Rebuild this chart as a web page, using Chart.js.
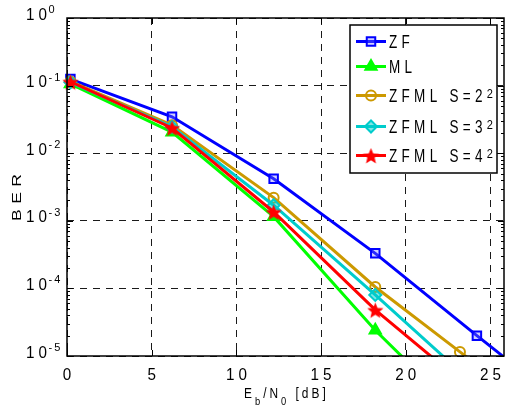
<!DOCTYPE html>
<html>
<head>
<meta charset="utf-8">
<script src="https://cdn.jsdelivr.net/npm/chart.js@4.4.0/dist/chart.umd.min.js"></script>
<style>
  body { margin: 0; background: #fff; }
  canvas { display: block; }
</style>
</head>
<body>
<canvas id="berChart" width="505" height="406" style="width:505px;height:406px"></canvas>
<script>
// Eb/N0 points in dB (the S=2^2 curve has its 5th point at 23.2)
const snr = [0.2, 6.2, 12.2, 18.2, 24.2, 30.2];
const snrS2 = [0.2, 6.2, 12.2, 18.2, 23.2, 28.2];

// BER values (points past the axis get clipped)
const berZF = [0.125, 0.0345, 0.0042, 3.3e-4, 2.0e-5, 1.3e-6];
const berML = [0.106, 0.0205, 1.15e-3, 2.4e-5, 8e-7, 3e-8];
const berS2 = [0.115, 0.026, 2.2e-3, 1.05e-4, 1.15e-5, 1.3e-6];
const berS3 = [0.112, 0.0245, 1.7e-3, 8e-5, 3.5e-6, 2e-7];
const berS4 = [0.114, 0.0236, 1.35e-3, 4.8e-5, 2.7e-6, 1e-7];

const seriesNames = ['ZF', 'ML', 'ZFML S=2^2', 'ZFML S=3^2', 'ZFML S=4^2'];
const xTicks = [0, 5, 10, 15, 20, 25];
const yExponents = [0, -1, -2, -3, -4, -5];

const FONT = '"Liberation Sans", Arial, sans-serif';

function makeStar(r, color) {
  const c = document.createElement('canvas');
  const s = Math.ceil(r * 2 + 2);
  c.width = s; c.height = s;
  const g = c.getContext('2d');
  g.fillStyle = color;
  g.beginPath();
  for (let i = 0; i < 10; i++) {
    const rad = i % 2 ? r * 0.45 : r;
    const a = -Math.PI / 2 + i * Math.PI / 5;
    g.lineTo(s / 2 + rad * Math.cos(a), s / 2 + 1 + rad * Math.sin(a));
  }
  g.closePath();
  g.fill();
  return c;
}

function pts(xs, ys) {
  return xs.map((x, i) => ({ x: x, y: ys[i] }));
}

const styles = [
  { color: '#0000ff', pointStyle: 'rect', radius: 6, fill: 'rgba(120,120,255,0.35)' },
  { color: '#00ff00', pointStyle: 'triangle', radius: 6.5, fill: '#00ff00' },
  { color: '#cc9900', pointStyle: 'circle', radius: 5, fill: 'rgba(255,255,255,0)' },
  { color: '#00cccc', pointStyle: 'rectRot', radius: 6, fill: 'rgba(0,204,204,0.5)' },
  { color: '#ff0000', pointStyle: makeStar(8.5, '#ff0000'), radius: 8, fill: '#ff0000' }
];

const seriesData = [pts(snr, berZF), pts(snr, berML), pts(snrS2, berS2), pts(snr, berS3), pts(snr, berS4)];

const datasets = seriesData.map((d, i) => ({
  label: seriesNames[i],
  data: d,
  borderColor: styles[i].color,
  backgroundColor: styles[i].fill,
  pointBorderColor: styles[i].color,
  pointBackgroundColor: styles[i].fill,
  pointStyle: styles[i].pointStyle,
  pointRadius: styles[i].radius,
  pointBorderWidth: 2,
  borderWidth: 3,
  tension: 0,
  order: 5 - i,
  clip: { left: 12, top: 12, right: 0, bottom: 0 }
}));

function textWidth(ctx, str, size, sx, ls) {
  ctx.font = size + 'px ' + FONT;
  ctx.letterSpacing = '0px';
  return ctx.measureText(str).width * sx + ls * (str.length - 1);
}

function putText(ctx, str, x, baseY, size, sx, ls, align) {
  const w = textWidth(ctx, str, size, sx, ls);
  let left = x;
  if (align === 'center') left -= w / 2;
  if (align === 'right') left -= w;
  ctx.save();
  ctx.translate(left, baseY);
  ctx.scale(sx, 1);
  ctx.font = size + 'px ' + FONT;
  ctx.letterSpacing = (ls / sx) + 'px';
  ctx.textAlign = 'left';
  ctx.textBaseline = 'alphabetic';
  ctx.fillText(str, 0, 0);
  ctx.restore();
  return left + w + ls;
}

// axes box, log ticks, labels and legend
const berDecor = {
  id: 'berDecor',
  afterDraw(chart) {
    const ctx = chart.ctx;
    const a = chart.chartArea;
    const xs = chart.scales.x;
    const ys = chart.scales.y;
    ctx.save();
    ctx.fillStyle = '#000';
    ctx.strokeStyle = '#000';
    ctx.lineWidth = 1;

    // y ticks, major and minor, both sides
    ctx.beginPath();
    yExponents.forEach(e => {
      for (let m = 1; m <= 9; m++) {
        const v = m * Math.pow(10, e);
        if (v > 1 || (e === 0 && m > 1)) continue;
        const py = Math.round(ys.getPixelForValue(v)) + 0.5;
        const len = m === 1 ? 6 : 3;
        ctx.moveTo(a.left, py); ctx.lineTo(a.left + len, py);
        ctx.moveTo(a.right, py); ctx.lineTo(a.right - len, py);
      }
    });
    xTicks.forEach(t => {
      const px = Math.round(xs.getPixelForValue(t)) + 0.5;
      ctx.moveTo(px, a.bottom); ctx.lineTo(px, a.bottom - 6);
      ctx.moveTo(px, a.top); ctx.lineTo(px, a.top + 6);
    });
    ctx.stroke();

    ctx.lineWidth = 1.5;
    ctx.strokeRect(a.left, a.top, a.right - a.left, a.bottom - a.top);

    // tick labels
    xTicks.forEach(t => {
      putText(ctx, String(t), xs.getPixelForValue(t), 380, 16, 0.95, 4, 'center');
    });
    yExponents.forEach(e => {
      const py = ys.getPixelForValue(Math.pow(10, e));
      putText(ctx, '10', 47, py + 1.5, 16, 0.95, 4, 'right');
      putText(ctx, String(e), 48.5, py - 5, 11, 1, 2, 'left');
    });

    // x title with subscripts
    let cx = 244;
    cx = putText(ctx, 'E', cx, 398, 14, 0.85, 3, 'left');
    cx = putText(ctx, 'b', cx, 405, 11, 0.85, 3, 'left');
    cx = putText(ctx, '/N', cx, 398, 14, 0.85, 3, 'left');
    cx = putText(ctx, '0', cx, 405, 11, 0.85, 3, 'left');
    putText(ctx, ' [dB]', cx, 398, 14, 0.85, 3, 'left');

    // y title
    ctx.save();
    ctx.translate(16.5, 197.5);
    ctx.rotate(-Math.PI / 2);
    ctx.scale(1.35, 1);
    ctx.font = '13px ' + FONT;
    ctx.letterSpacing = '4px';
    ctx.textAlign = 'center';
    ctx.textBaseline = 'alphabetic';
    ctx.fillText('BER', 2, 4.6);
    ctx.restore();

    // legend
    const box = { left: 350, top: 25, right: 497, bottom: 173 };
    const rows = [41.5, 66.5, 95.5, 126.5, 155.5];
    ctx.fillStyle = '#fff';
    ctx.fillRect(box.left, box.top, box.right - box.left, box.bottom - box.top);
    ctx.lineWidth = 1.5;
    ctx.strokeStyle = '#000';
    ctx.strokeRect(box.left, box.top, box.right - box.left, box.bottom - box.top);
    seriesNames.forEach((name, i) => {
      const st = styles[i];
      const ry = rows[i];
      ctx.strokeStyle = st.color;
      ctx.lineWidth = 3;
      ctx.beginPath();
      ctx.moveTo(356, ry); ctx.lineTo(386, ry);
      ctx.stroke();
      ctx.fillStyle = st.fill;
      ctx.lineWidth = 2;
      if (Chart.helpers && Chart.helpers.drawPoint) {
        Chart.helpers.drawPoint(ctx, { pointStyle: st.pointStyle, radius: st.radius, rotation: 0, borderWidth: 2 }, 371, ry);
      }
      ctx.fillStyle = '#000';
      const parts = name.split('^');
      const end = putText(ctx, parts[0], 389, ry + 6.4, 18, 0.75, 4.3, 'left');
      if (parts[1]) putText(ctx, parts[1], end, ry + 2.5, 13, 0.85, 1, 'left');
    });
    ctx.restore();
  }
};

new Chart(document.getElementById('berChart').getContext('2d'), {
  type: 'line',
  data: { datasets: datasets },
  options: {
    responsive: false,
    animation: false,
    events: [],
    layout: { autoPadding: false, padding: { left: 67, top: 18, right: 1, bottom: 50 } },
    plugins: { legend: { display: false }, tooltip: { enabled: false } },
    scales: {
      x: {
        type: 'linear', min: 0, max: 25.8,
        afterBuildTicks: s => { s.ticks = xTicks.map(v => ({ value: v })); },
        ticks: { display: false },
        grid: { color: '#1a1a1a', lineWidth: 1, drawTicks: false },
        border: { display: false, dash: [7, 6] }
      },
      y: {
        type: 'logarithmic', min: 1e-5, max: 1,
        afterBuildTicks: s => { s.ticks = yExponents.map(e => ({ value: Math.pow(10, e) })); },
        ticks: { display: false },
        grid: { color: '#1a1a1a', lineWidth: 1, drawTicks: false },
        border: { display: false, dash: [7, 6] }
      }
    }
  },
  plugins: [berDecor]
});
</script>
</body>
</html>
